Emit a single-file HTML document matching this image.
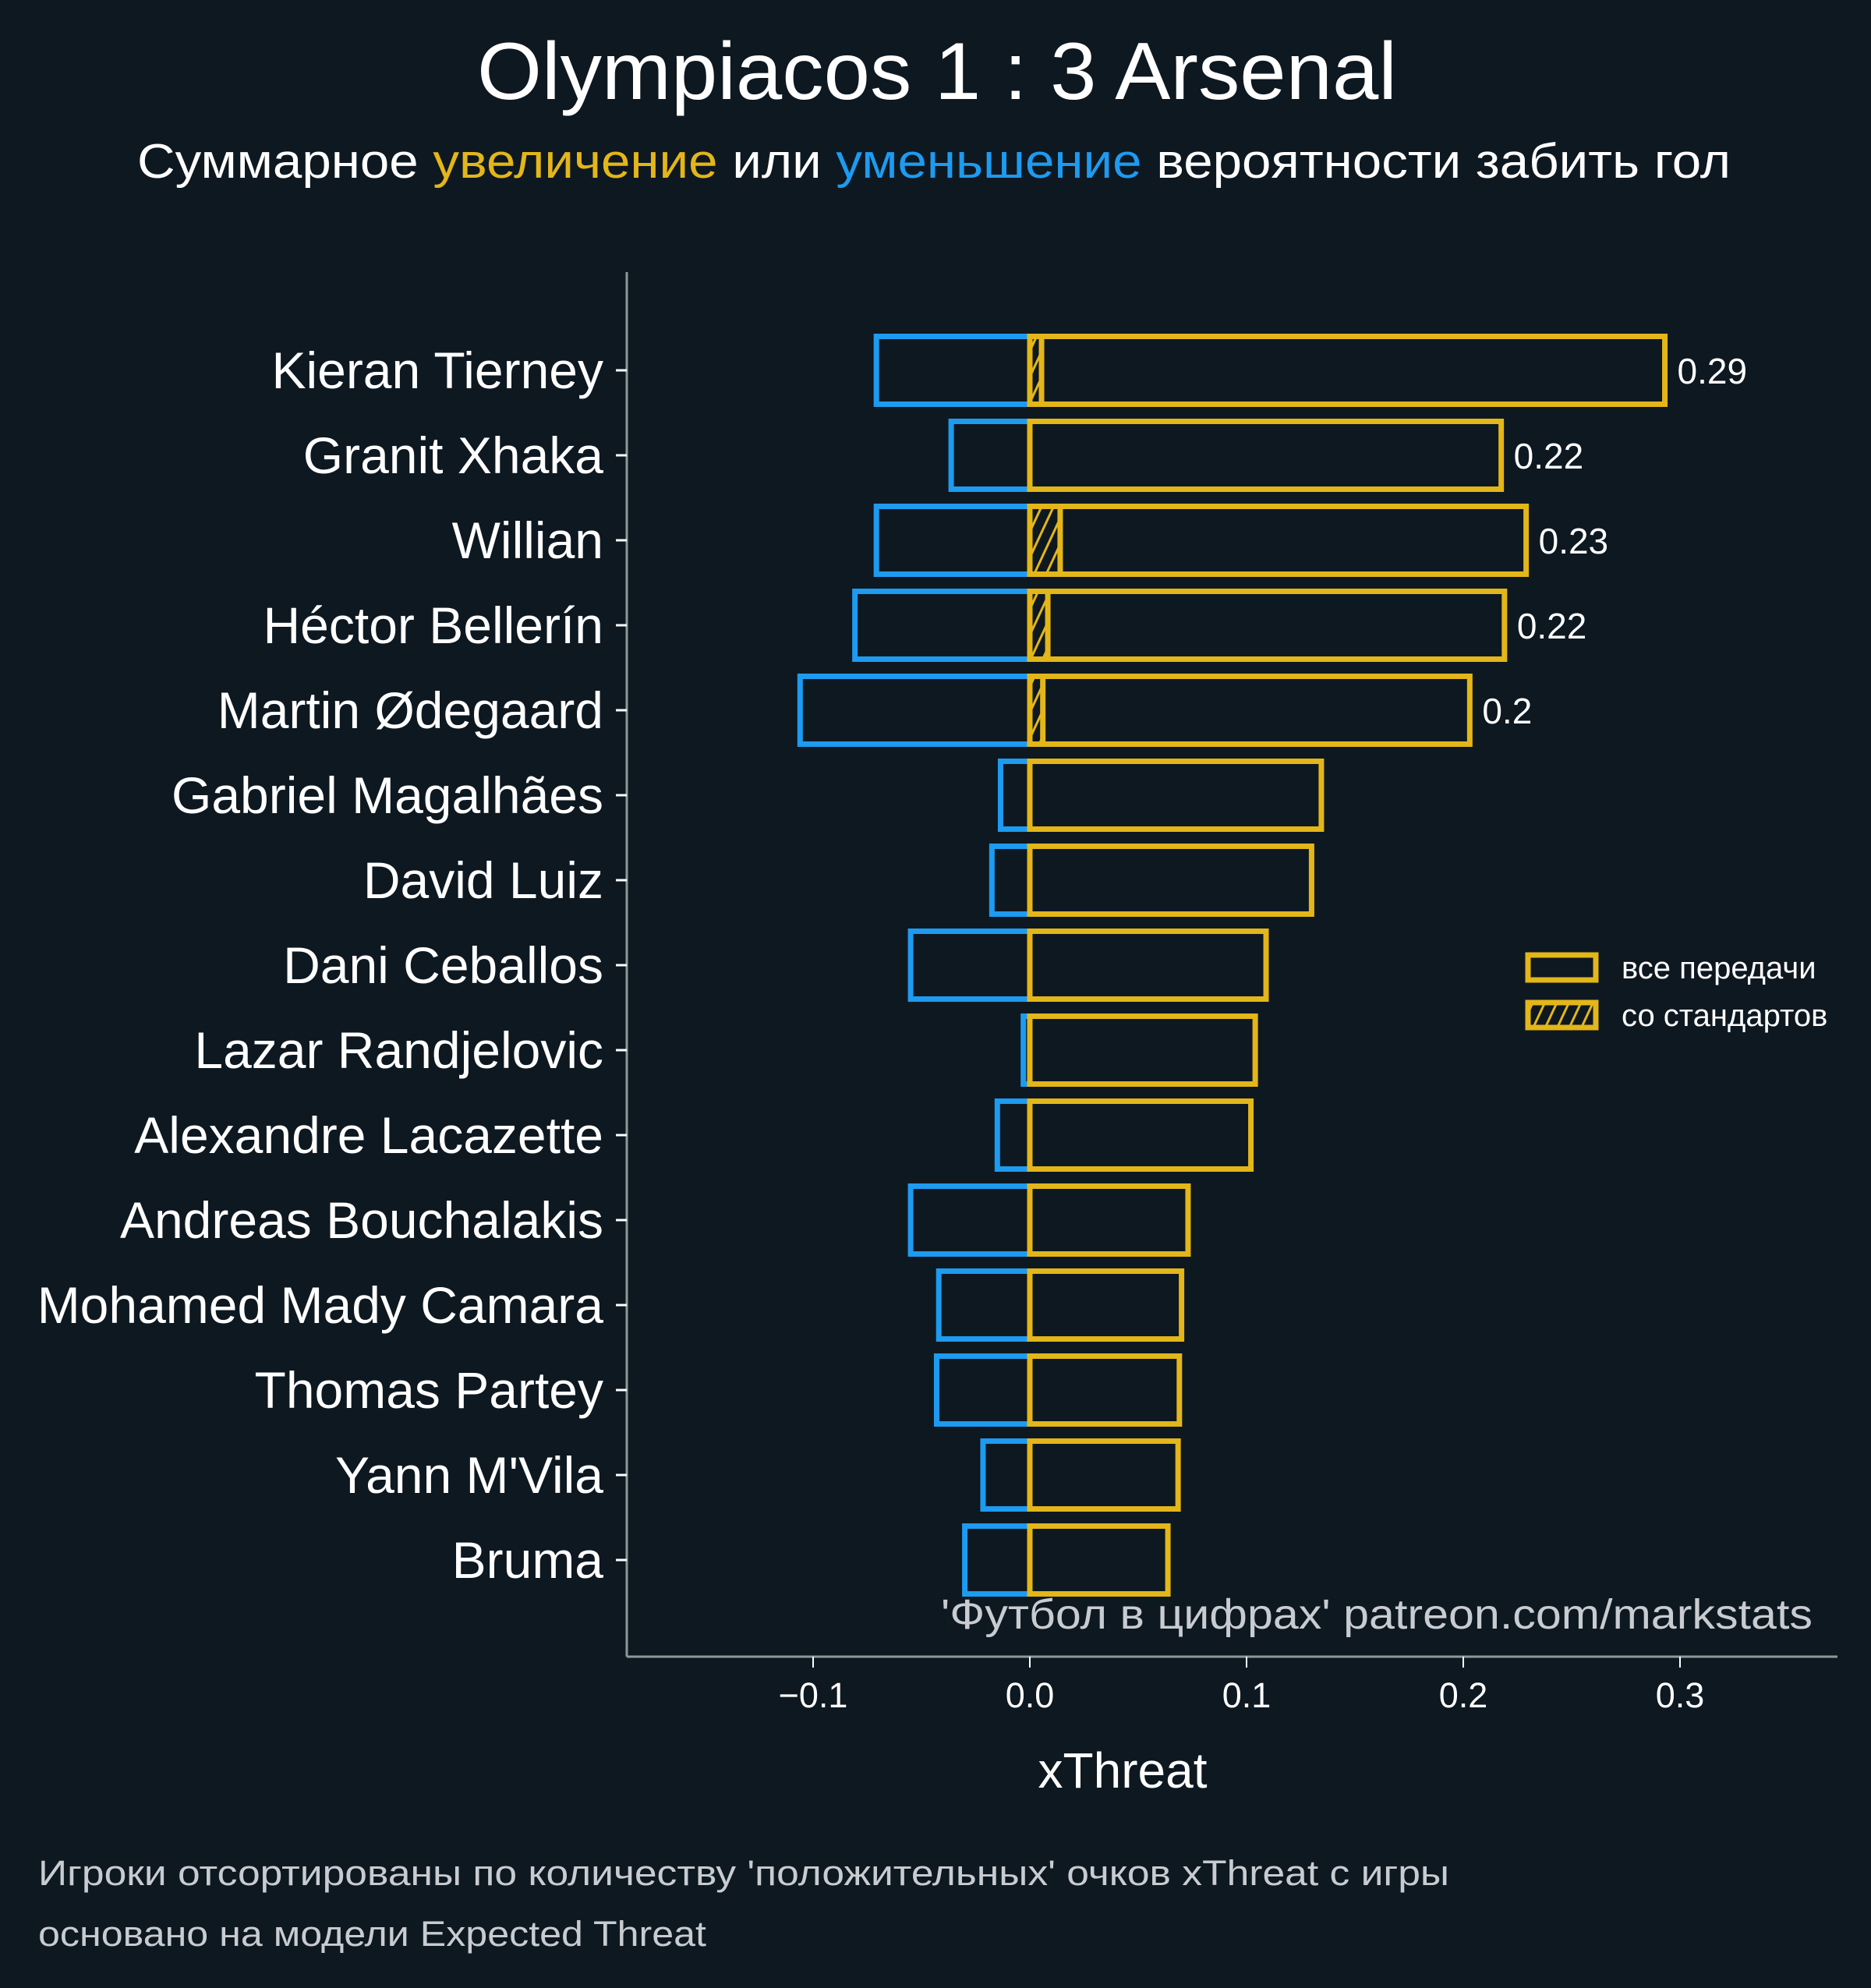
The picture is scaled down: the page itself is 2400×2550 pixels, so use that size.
<!DOCTYPE html>
<html><head><meta charset="utf-8"><style>
html,body{margin:0;padding:0;background:#0e1821;}
svg{display:block;}
text{font-family:"Liberation Sans","DejaVu Sans",sans-serif;}
</style></head><body>
<svg id="chart" width="2400" height="2550" viewBox="0 0 2400 2550" xmlns="http://www.w3.org/2000/svg">
<defs>
<pattern id="hatch" patternUnits="userSpaceOnUse" width="14" height="14" patternTransform="rotate(25)">
<rect width="14" height="14" fill="#0e1821"/>
<line x1="0" y1="0" x2="0" y2="14" stroke="#e3b619" stroke-width="6"/>
</pattern>
</defs>
<rect width="2400" height="2550" fill="#0e1821"/>
<text x="1202" y="127" text-anchor="middle" font-size="104" fill="#ffffff" textLength="1180" lengthAdjust="spacingAndGlyphs">Olympiacos 1 : 3 Arsenal</text>
<text x="176" y="228" font-size="62" fill="#ffffff" textLength="2044" lengthAdjust="spacingAndGlyphs">Суммарное <tspan fill="#e3b619">увеличение</tspan> или <tspan fill="#1d9bf0">уменьшение</tspan> вероятности забить гол</text>
<g id="plot"></g>
<g>
<rect x="1960" y="1225" width="87" height="32" fill="#0e1821" stroke="#e3b619" stroke-width="7"/>
<text x="2080" y="1255" font-size="40" fill="#ffffff">все передачи</text>
<rect x="1960" y="1286" width="87" height="32" fill="url(#hatch)" stroke="#e3b619" stroke-width="7"/>
<text x="2080" y="1316" font-size="40" fill="#ffffff">со стандартов</text>
</g>
<text x="2325" y="2089" text-anchor="end" font-size="54" fill="#c8ccd0" textLength="1118" lengthAdjust="spacingAndGlyphs">'Футбол в цифрах' patreon.com/markstats</text>
<text x="1440" y="2293" text-anchor="middle" font-size="64" fill="#ffffff">xThreat</text>
<text x="49" y="2418" font-size="45" fill="#c8ccd0" textLength="1810" lengthAdjust="spacingAndGlyphs">Игроки отсортированы по количеству 'положительных' очков xThreat с игры</text>
<text x="49" y="2496" font-size="45" fill="#c8ccd0" textLength="857" lengthAdjust="spacingAndGlyphs">основано на модели Expected Threat</text>
</svg>
<script>
const players = ["Kieran Tierney","Granit Xhaka","Willian","Héctor Bellerín","Martin Ødegaard","Gabriel Magalhães","David Luiz","Dani Ceballos","Lazar Randjelovic","Alexandre Lacazette","Andreas Bouchalakis","Mohamed Mady Camara","Thomas Partey","Yann M'Vila","Bruma"];
const positiveValues = [0.293,0.2175,0.229,0.219,0.203,0.1345,0.130,0.109,0.104,0.102,0.073,0.070,0.069,0.0684,0.0637];
const negativeValues = [-0.0708,-0.0363,-0.0708,-0.0807,-0.106,-0.0135,-0.0175,-0.055,-0.003,-0.015,-0.055,-0.042,-0.043,-0.0216,-0.030];
const setPieceValues = [0.0054,0,0.014,0.0083,0.006,0,0,0,0,0,0,0,0,0,0];
const valueLabels = ["0.29","0.22","0.23","0.22","0.2","","","","","","","","","",""];
const xTicks = [-0.1,0,0.1,0.2,0.3];
const xTickLabels = ["−0.1","0.0","0.1","0.2","0.3"];

const NS = "http://www.w3.org/2000/svg";
const g = document.getElementById('plot');
const x = v => 1321 + v * 2780;
const y = i => 475 + i * 109;
const bh = 87;
function mk(tag, attrs){const e=document.createElementNS(NS,tag);for(const k in attrs)e.setAttribute(k,attrs[k]);g.appendChild(e);return e;}

let s = mk('line',{x1:804,y1:349,x2:804,y2:2125,stroke:'#8a9a9a','stroke-width':3});


s = mk('line',{x1:804,y1:2125,x2:2357,y2:2125,stroke:'#8a9a9a','stroke-width':3});



xTicks.forEach((t,i)=>{
  const tk = mk('line',{x1:x(t),y1:2125,x2:x(t),y2:2139,stroke:'#ffffff','stroke-width':2});
  
  
  const tl = mk('text',{x:x(t),y:2190,'text-anchor':'middle','font-size':45,fill:'#ffffff'});
  tl.textContent = xTickLabels[i];
  
  
});

players.forEach((p,i)=>{
  const cy = y(i);
  const tk = mk('line',{x1:790,y1:cy,x2:804,y2:cy,stroke:'#ffffff','stroke-width':3});
  
  
  const tl = mk('text',{x:774,y:cy+23,'text-anchor':'end','font-size':66,fill:'#ffffff'});
  tl.textContent = p;
  
  

  const n = mk('rect',{x:x(negativeValues[i]),y:cy-bh/2,width:x(0)-x(negativeValues[i]),height:bh,fill:'none',stroke:'#1d9bf0','stroke-width':7});
  
  
  const pb = mk('rect',{x:x(0),y:cy-bh/2,width:x(positiveValues[i])-x(0),height:bh,fill:'none',stroke:'#e3b619','stroke-width':7});
  
  
  if(setPieceValues[i]>0){
    const h = mk('rect',{x:x(0),y:cy-bh/2,width:x(setPieceValues[i])-x(0),height:bh,fill:'url(#hatch)',stroke:'#e3b619','stroke-width':7});
    
    
  }
  if(valueLabels[i]){
    const vl = mk('text',{x:x(positiveValues[i])+16,y:cy+17,'font-size':46,fill:'#ffffff'});
    vl.textContent = valueLabels[i];
    
    
  }
});
</script>
</body></html>
